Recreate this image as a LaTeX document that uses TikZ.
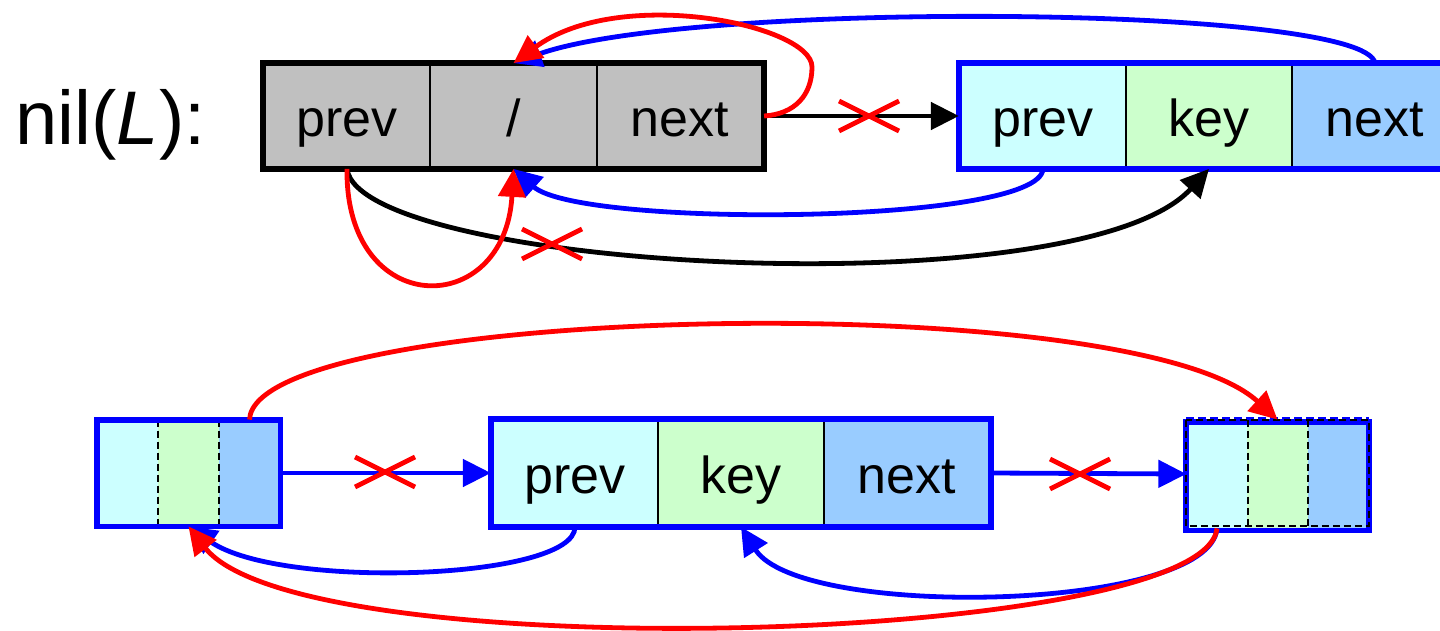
\documentclass[tikz,border=0pt]{standalone}
\usepackage{fontspec}
\setmainfont{Liberation Sans}
\usetikzlibrary{arrows.meta}

\definecolor{cellprev}{HTML}{CCFFFF}
\definecolor{cellkey}{HTML}{CCFFCC}
\definecolor{cellnext}{HTML}{99CCFF}
\definecolor{nilgray}{HTML}{C0C0C0}
\definecolor{linkblue}{HTML}{0000FF}
\definecolor{linkred}{HTML}{FF0000}

\tikzset{
  cell/.style={rectangle, inner sep=0pt, minimum width=83.2pt, minimum height=52pt,
    draw=black, line width=0.9pt, text height=20.5pt, text depth=0pt,
    font=\fontsize{26}{30}\selectfont},
  slot/.style={rectangle, inner sep=0pt, minimum width=30.5pt, minimum height=53pt, draw=none},
  frame/.style={line width=2.9pt},
  divider/.style={black, line width=1pt, dash pattern=on 3.5pt off 2pt},
  ptr/.style={line width=2.4pt, -{Triangle[length=14pt,width=13.5pt]}},
  xmark/.pic={\draw[linkred, line width=2.4pt] (-30,-15) -- (30,15) (-30,15) -- (30,-15);}
}

\begin{document}
\begin{tikzpicture}[x=0.5pt,y=-0.5pt]
\useasboundingbox (0,0) rectangle (1440,631);
\clip (0,0) rectangle (1440,631);

% label of the sentinel
\node[anchor=base west, inner sep=0pt, font=\fontsize{38}{42}\selectfont] (nil) at (15,145)
  {nil(\textit{L}):};

% sentinel node (gray)
\node[cell, fill=nilgray] (g1) at (347,116) {prev};
\node[cell, fill=nilgray] (g2) at (513.5,116) {/};
\node[cell, fill=nilgray] (g3) at (680,116) {next};
\draw[frame, black] (g1.north west) rectangle (g3.south east);

% first list element
\node[cell, fill=cellprev] (a1) at (1043,116) {prev};
\node[cell, fill=cellkey]  (a2) at (1209,116) {key};
\node[cell, fill=cellnext] (a3) at (1375,116) {next};
\draw[frame, linkblue] (a1.north west) rectangle (a3.south east);

% element to delete, with its two neighbours
\node[cell, minimum height=53pt, fill=cellprev] (m1) at (575,473) {prev};
\node[cell, minimum height=53pt, fill=cellkey]  (m2) at (741,473) {key};
\node[cell, minimum height=53pt, fill=cellnext] (m3) at (907,473) {next};
\draw[frame, linkblue] (m1.north west) rectangle (m3.south east);

\node[slot, fill=cellprev] (l1) at (127.5,473) {};
\node[slot, fill=cellkey]  (l2) at (188.5,473) {};
\node[slot, fill=cellnext] (l3) at (249.5,473) {};
\draw[divider] (l1.north east) -- (l1.south east);
\draw[divider] (l2.north east) -- (l2.south east);
\draw[frame, linkblue] (l1.north west) rectangle (l3.south east);

\node[slot, minimum width=30.25pt, minimum height=54pt, fill=cellprev] (r1) at (1217,474) {};
\node[slot, minimum width=30.25pt, minimum height=54pt, fill=cellkey]  (r2) at (1277.5,474) {};
\node[slot, minimum width=30.25pt, minimum height=54pt, fill=cellnext] (r3) at (1338,474) {};
\draw[frame, linkblue] ([yshift=-1pt]r1.north west) rectangle ([yshift=-1pt]r3.south east);
\draw[linkblue, line width=1.6pt, dash pattern=on 4pt off 2pt]
  ([yshift=0.7pt]r1.north west) -- ([yshift=0.7pt]r3.north east);
\draw[divider] (r1.north west) rectangle ([yshift=1.2pt]r3.south east);
\draw[divider] (r1.north east) -- (r1.south east);
\draw[divider] (r2.north east) -- (r2.south east);

% top: links around the sentinel
\draw[ptr, black] (g3.east) -- (a1.west);
\pic at (869,116) {xmark};

\draw[ptr, black] (g1.south) .. controls (360,270) and (1080,310) .. (a2.south);
\pic at (552,244) {xmark};

\draw[ptr, linkblue] (a3.north) .. controls (1365,5) and (690,0) .. (g2.north);
\draw[ptr, linkblue] (a1.south) .. controls (1040,225) and (580,228) .. (g2.south);

\draw[ptr, linkred] (g3.east) .. controls (795,114) and (812,95) .. (812,67)
  .. controls (812,25) and (620,-15) .. (g2.north);
\draw[ptr, linkred] (g1.south) .. controls (345,320) and (505,320) .. (g2.south);

% bottom: unlinking the middle element
\draw[ptr, linkblue] (l3.east) -- (m1.west);
\pic at (385,472) {xmark};
\draw[ptr, linkblue] (m3.east) -- (r1.west);
\pic at (1080,474) {xmark};

\draw[ptr, linkblue] (m1.south) .. controls (575,580) and (280,590) .. (l2.south);
\draw[ptr, linkblue] (r1.south) .. controls (1210,612) and (800,620) .. (m2.south);

\draw[ptr, linkred] (l3.north) .. controls (255,305) and (1130,285) .. (r2.north);
\draw[ptr, linkred] (r1.south) .. controls (1205,645) and (300,670) .. (l2.south);
\end{tikzpicture}
\end{document}
